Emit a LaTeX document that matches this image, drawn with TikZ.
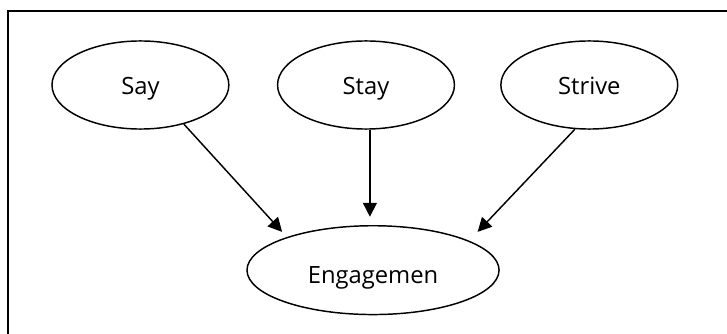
\documentclass[tikz,border=0pt]{standalone}
\usepackage{fontspec}
\setmainfont{Open Sans}
\usepackage{tikz}
\usetikzlibrary{positioning,arrows.meta,shapes.geometric}
\tikzset{
>={Triangle[length=10.5pt,width=10.5pt]},
  bubble/.style={
    ellipse,
    draw=black, line width=1.1pt,
    minimum width=4.68cm,
    minimum height=2.33cm,
    inner sep=0pt,
    text height=15pt, text depth=0pt,
    font=\fontsize{17.9}{21}\selectfont},
  bigbubble/.style={
    bubble,
    minimum width=6.67cm,
    minimum height=2.35cm,
    text height=20pt},
  link/.style={draw, line width=1.1pt, ->},
  frame/.style={draw, line width=1.4pt},
}
\begin{document}
\begin{tikzpicture}
  \useasboundingbox (0,0) rectangle (19.236,-8.811);
  \clip (0,0) rectangle (19.236,-8.811);
  \draw[frame] (0.22,-0.286) rectangle (20,-9.5);

     \node[bubble] (stay) at (9.684,-2.249) {Stay};
     \node[bubble, left=1.25cm of stay] (say) {Say};
     \node[bubble, right=1.19cm of stay] (strive) {Strive};
     \node[bigbubble, below=2.52cm of stay, xshift=0.186cm] (eng) {Engagemen};

     \path[link, shorten >=5.25pt] (say.318) -- (eng.159);
     \path[link, shorten >=6.2pt] (stay.-85) -- (stay.-85 |- eng.north);
     \path[link, shorten >=9.2pt] (strive.252) -- (eng.17);

\end{tikzpicture}
\end{document}
